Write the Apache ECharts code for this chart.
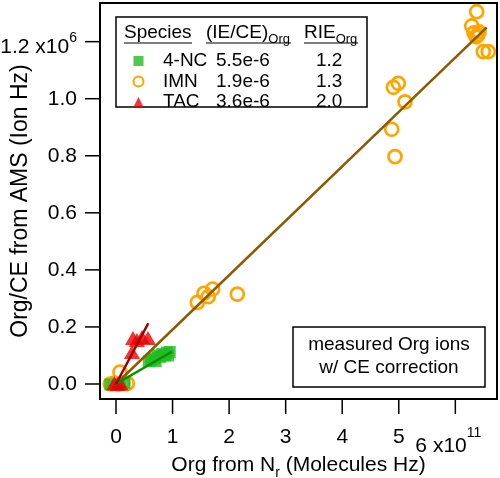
<!DOCTYPE html>
<html><head><meta charset="utf-8">
<script src="https://cdn.jsdelivr.net/npm/echarts@6/dist/echarts.min.js"></script>
<style>html,body{margin:0;padding:0;background:#fff}#c{width:500px;height:478px}</style>
</head><body><div id="c"></div>
<script>
// x in units of 1e11 molecules Hz, y in units of 1e6 ion Hz
const xTicks = [0, 1, 2, 3, 4, 5, 6];
const yTicks = [0, 0.2, 0.4, 0.6, 0.8, 1.0, 1.2];
const xExponent = '11';
const yExponent = '6';

const speciesNames = ['4-NC', 'IMN', 'TAC'];
const ieCeOrg = ['5.5e-6', '1.9e-6', '3.6e-6'];
const rieOrg = ['1.2', '1.3', '2.0'];

const nc4Points = [
  [-0.1, -0.002], [0.05, 0.0], [0.15, 0.003],
  [0.58, 0.08], [0.62, 0.085], [0.7, 0.08], [0.68, 0.09], [0.74, 0.1], [0.78, 0.095],
  [0.82, 0.105], [0.86, 0.1], [0.9, 0.11], [0.92, 0.1], [0.95, 0.112]
];
const imnPoints = [
  [-0.1, 0.0], [-0.03, 0.003], [0.04, 0.0], [0.12, 0.003], [0.2, 0.002], [0.07, 0.042],
  [1.438, 0.286], [1.556, 0.318], [1.632, 0.306], [1.71, 0.333], [2.145, 0.315],
  [4.875, 0.893], [4.934, 0.797], [4.904, 1.04], [4.992, 1.054], [5.11, 0.989],
  [6.29, 1.255], [6.378, 1.305], [6.33, 1.231], [6.40, 1.224], [6.37, 1.217], [6.42, 1.234],
  [6.495, 1.165], [6.583, 1.165]
];
const tacPoints = [
  [-0.03, 0.003], [0.03, 0.0], [0.08, 0.002],
  [0.283, 0.112], [0.30, 0.161], [0.37, 0.154], [0.46, 0.165], [0.566, 0.161]
];
const nc4Fit = [[0, 0], [0.985, 0.113]];
const imnFit = [[0, 0], [6.555, 1.25]];
const tacFit = [[0, 0], [0.571, 0.213]];

const FONT = 'Liberation Sans, Arial, Helvetica, sans-serif';
const ORANGE = '#FFA500', GREEN = '#22BB22', RED = '#EE0000';
const TICK_LEN = 15;

const chart = echarts.init(document.getElementById('c'), null, {renderer: 'canvas'});

const legendRich = {
  g: {width: 14.5, fontSize: 19, fontFamily: FONT, lineHeight: 20},
  n: {width: 53, fontSize: 19, fontFamily: FONT, lineHeight: 20, color: '#000'},
  v: {width: 100, fontSize: 19, fontFamily: FONT, lineHeight: 20, color: '#000'},
  r: {fontSize: 19, fontFamily: FONT, lineHeight: 20, color: '#000'}
};

function headerText(x, mainTxt, subTxt) {
  const rich = {
    m: {fontSize: 19, fontFamily: FONT, lineHeight: 20, verticalAlign: 'top', fill: '#000'},
    s: {fontSize: 13, fontFamily: FONT, lineHeight: 12, verticalAlign: 'top', padding: [10, 0, 0, 0], fill: '#000'}
  };
  return {
    type: 'text', x: x, y: 23, z: 10,
    style: {text: subTxt ? '{m|' + mainTxt + '}{s|' + subTxt + '}' : '{m|' + mainTxt + '}', rich: rich, fill: '#000'}
  };
}
function underline(x1, x2) {
  return {type: 'line', z: 10, shape: {x1: x1, y1: 43, x2: x2, y2: 43}, style: {stroke: '#000', lineWidth: 1.2}};
}

function xTickItem(params, api) {
  const cs = params.coordSys;
  const p = api.coord([api.value(0), api.value(1)]);
  const yb = cs.y + cs.height;
  return {type: 'line', shape: {x1: p[0], y1: yb, x2: p[0], y2: yb + TICK_LEN}, style: {stroke: '#000', lineWidth: 1.5}};
}
function yTickItem(params, api) {
  const cs = params.coordSys;
  const p = api.coord([api.value(0), api.value(1)]);
  return {type: 'line', shape: {x1: cs.x, y1: p[1], x2: cs.x - TICK_LEN, y2: p[1]}, style: {stroke: '#000', lineWidth: 1.5}};
}

const option = {
  animation: false,
  backgroundColor: '#fff',
  grid: {left: 100, right: 3, top: 3, bottom: 79, show: true, borderColor: '#000', borderWidth: 2,
         backgroundColor: 'transparent', containLabel: false, outerBoundsMode: 'none'},
  xAxis: {
    type: 'value', min: -0.283, max: 6.737,
    splitLine: {show: false},
    axisLine: {show: true, onZero: false, lineStyle: {color: '#000', width: 2}},
    axisTick: {show: false},
    axisLabel: {
      customValues: xTicks, margin: 27, fontSize: 21, fontFamily: FONT, color: '#000', lineHeight: 22,
      formatter: function (v) {
        if (Math.abs(v - xTicks[xTicks.length - 1]) < 1e-9) return '{a|' + v + ' x10}{s|' + xExponent + '}';
        return String(v);
      },
      rich: {
        a: {fontSize: 21, fontFamily: FONT, color: '#000', lineHeight: 22, padding: [10, 0, 0, 0], verticalAlign: 'top'},
        s: {fontSize: 14, fontFamily: FONT, color: '#000', lineHeight: 14, verticalAlign: 'top', padding: [0, 14, 0, 0]}
      }
    },
    name: '{m|Org from N}{s|r}{m| (Molecules Hz)}',
    nameLocation: 'middle', nameGap: 56, nameMoveOverlap: false,
    nameTextStyle: {
      fontSize: 21, fontFamily: FONT, color: '#000',
      rich: {
        m: {fontSize: 21, fontFamily: FONT, color: '#000', lineHeight: 22, verticalAlign: 'top'},
        s: {fontSize: 14, fontFamily: FONT, color: '#000', lineHeight: 14, verticalAlign: 'top', padding: [11, 0, 0, 0]}
      }
    }
  },
  yAxis: {
    type: 'value', min: -0.0526, max: 1.3355,
    splitLine: {show: false},
    axisLine: {show: true, onZero: false, lineStyle: {color: '#000', width: 2}},
    axisTick: {show: false},
    axisLabel: {
      customValues: yTicks, margin: 23, fontSize: 21, fontFamily: FONT, color: '#000',
      formatter: function (v) {
        if (Math.abs(v - yTicks[yTicks.length - 1]) < 1e-9) return '{a|' + v.toFixed(1) + ' x10}{s|' + yExponent + '}';
        return v.toFixed(1);
      },
      rich: {
        a: {fontSize: 21, fontFamily: FONT, color: '#000', lineHeight: 22, padding: [6, 0, 0, 0], verticalAlign: 'top'},
        s: {fontSize: 14, fontFamily: FONT, color: '#000', lineHeight: 14, verticalAlign: 'top'}
      }
    },
    name: 'Org/CE from AMS (Ion Hz)',
    nameLocation: 'middle', nameGap: 68, nameRotate: 90, nameMoveOverlap: false,
    nameTextStyle: {fontSize: 23, fontFamily: FONT, color: '#000'}
  },
  legend: {
    show: true, orient: 'vertical', left: 132.5, top: 51, padding: 0, itemGap: 0.5,
    itemWidth: 10, itemHeight: 10, selectedMode: false,
    data: speciesNames,
    formatter: function (name) {
      const i = speciesNames.indexOf(name);
      return '{g| }{n|' + name + '}{v|' + ieCeOrg[i] + '}{r|' + rieOrg[i] + '}';
    },
    textStyle: {fontSize: 19, fontFamily: FONT, color: '#000', lineHeight: 20, rich: legendRich}
  },
  graphic: [
    {type: 'rect', z: 1, shape: {x: 116, y: 17, width: 251, height: 90}, style: {fill: '#fff', stroke: '#000', lineWidth: 1.5}},
    headerText(124, 'Species'),
    headerText(206, '(IE/CE)', 'Org'),
    headerText(304, 'RIE', 'Org'),
    underline(124, 192), underline(206, 291), underline(304, 358),
    {type: 'rect', z: 1, shape: {x: 293, y: 327, width: 192, height: 60}, style: {fill: '#fff', stroke: '#000', lineWidth: 1.5}},
    {type: 'text', z: 10, x: 389, y: 345, style: {text: 'measured Org ions', fontSize: 19, fontFamily: FONT, fill: '#000', textAlign: 'center', textVerticalAlign: 'middle'}},
    {type: 'text', z: 10, x: 389, y: 368, style: {text: 'w/ CE correction', fontSize: 19, fontFamily: FONT, fill: '#000', textAlign: 'center', textVerticalAlign: 'middle'}}
  ],
  series: [
    {name: 'IMN', type: 'scatter', data: imnPoints, symbol: 'circle', symbolSize: 13, z: 2,
     itemStyle: {color: 'rgba(255,165,0,0)', borderColor: ORANGE, borderWidth: 2.7, opacity: 1}},
    {name: '4-NC', type: 'scatter', data: nc4Points, symbol: 'rect', symbolSize: 12, z: 3,
     itemStyle: {color: GREEN}},
    {name: 'TAC', type: 'scatter', data: tacPoints, symbol: 'triangle', symbolSize: [16, 14], z: 4,
     itemStyle: {color: RED}},
    {name: 'IMN fit', type: 'line', data: imnFit, showSymbol: false, symbol: 'none', z: 5,
     lineStyle: {color: '#8B5A00', width: 2.5}},
    {name: '4-NC fit', type: 'line', data: nc4Fit, showSymbol: false, symbol: 'none', z: 5,
     lineStyle: {color: '#009000', width: 2.5}},
    {name: 'TAC fit', type: 'line', data: tacFit, showSymbol: false, symbol: 'none', z: 5,
     lineStyle: {color: '#990000', width: 2.5}},
    {name: 'x ticks', type: 'custom', data: xTicks.map(function (v) { return [v, 0]; }), renderItem: xTickItem,
     clip: false, silent: true, z: 6, tooltip: {show: false}},
    {name: 'y ticks', type: 'custom', data: yTicks.map(function (v) { return [0, v]; }), renderItem: yTickItem,
     clip: false, silent: true, z: 6, tooltip: {show: false}}
  ]
};
chart.setOption(option);
</script></body></html>
